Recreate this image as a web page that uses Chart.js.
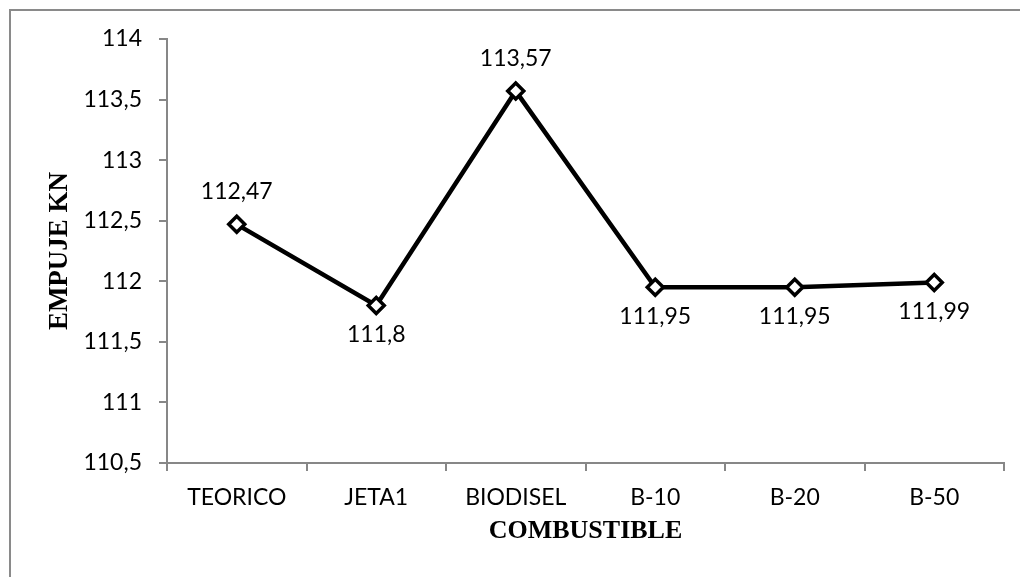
<!DOCTYPE html>
<html>
<head>
<meta charset="utf-8">
<script src="https://cdn.jsdelivr.net/npm/chart.js@4/dist/chart.umd.min.js"></script>
<style>
  html, body { margin: 0; padding: 0; background: #fff; }
  .wrap { position: relative; width: 1020px; height: 577px; overflow: hidden; }
  .frame {
    position: absolute; left: 9px; top: 9px; width: 1100px; height: 700px;
    border-top: 2px solid #8a8a8a; border-left: 2px solid #8a8a8a;
  }
  #chart { position: absolute; left: 0; top: 0; }
</style>
</head>
<body>
<div class="wrap">
  <div class="frame"></div>
  <canvas id="chart" width="1020" height="577"></canvas>
</div>
<script>
// ===== Data =====
const combustibles = ["TEORICO", "JETA1", "BIODISEL", "B-10", "B-20", "B-50"];
const empuje = [112.47, 111.8, 113.57, 111.95, 111.95, 111.99];
const yMin = 110.5;
const yMax = 114;
const yStep = 0.5;
const yTitle = "EMPUJE KN";
const xTitle = "COMBUSTIBLE";

const fmt = v => String(+v.toFixed(2)).replace(".", ",");
const tickFont = { family: "Lato, 'Open Sans', sans-serif", size: 23 };
const titleFont = { family: "'Liberation Serif', 'Times New Roman', serif", size: 26, weight: "bold" };
const axisGrey = "#878787";

// value labels next to each diamond
const valueLabels = {
    id: "valueLabels",
    afterDatasetsDraw(chart, args, opts) {
        const ctx = chart.ctx;
        const meta = chart.getDatasetMeta(0);
        ctx.save();
        ctx.font = `${tickFont.size}px ${tickFont.family}`;
        ctx.fillStyle = "#000";
        ctx.textAlign = "center";
        ctx.textBaseline = "middle";
        meta.data.forEach((pt, i) => {
            const above = opts.above.includes(i);
            const dy = above ? -opts.up : opts.down;
            ctx.fillText(fmt(empuje[i]), pt.x, pt.y + dy);
        });
        ctx.restore();
    }
};

// vertical axis title, centred on the plot height
const yAxisTitle = {
    id: "yAxisTitle",
    afterDraw(chart, args, opts) {
        const ctx = chart.ctx;
        const area = chart.chartArea;
        ctx.save();
        ctx.font = `${titleFont.weight} ${opts.size}px ${titleFont.family}`;
        ctx.fillStyle = "#000";
        ctx.textAlign = "center";
        ctx.textBaseline = "middle";
        ctx.translate(opts.x, (area.top + area.bottom) / 2);
        ctx.rotate(-Math.PI / 2);
        ctx.fillText(yTitle, 0, 0);
        ctx.restore();
    }
};

new Chart(document.getElementById("chart"), {
    type: "line",
    data: {
        labels: combustibles,
        datasets: [{
            data: empuje,
            borderColor: "#000",
            borderWidth: 4.5,
            tension: 0,
            pointStyle: "rectRot",
            pointRadius: 8,
            pointBorderWidth: 3.5,
            pointBackgroundColor: "#fff",
            pointBorderColor: "#000"
        }]
    },
    options: {
        responsive: false,
        animation: false,
        layout: { padding: { left: 0, top: 39, right: 16, bottom: 0 } },
        plugins: {
            legend: { display: false },
            tooltip: { enabled: false },
            valueLabels: { above: [0, 2], up: 33, down: 29 },
            yAxisTitle: { x: 60, size: 27 }
        },
        scales: {
            x: {
                offset: true,
                afterFit: s => { s.height = 114; },
                grid: {
                    offset: true, drawOnChartArea: false, drawTicks: true,
                    tickLength: 8, color: axisGrey, lineWidth: 2
                },
                border: { display: true, color: axisGrey, width: 2 },
                ticks: { color: "#000", font: tickFont, padding: 13, maxRotation: 0 },
                title: {
                    display: true, text: xTitle, color: "#000",
                    font: titleFont, padding: { top: 0, bottom: 30 }
                }
            },
            y: {
                min: yMin,
                max: yMax,
                afterFit: s => { s.width = 167; },
                grid: {
                    drawOnChartArea: false, drawTicks: true,
                    tickLength: 8, color: axisGrey, lineWidth: 2
                },
                border: { display: true, color: axisGrey, width: 2 },
                ticks: {
                    stepSize: yStep, color: "#000", font: tickFont, padding: 17,
                    callback: v => fmt(v)
                }
            }
        }
    },
    plugins: [valueLabels, yAxisTitle]
});
</script>
</body>
</html>
